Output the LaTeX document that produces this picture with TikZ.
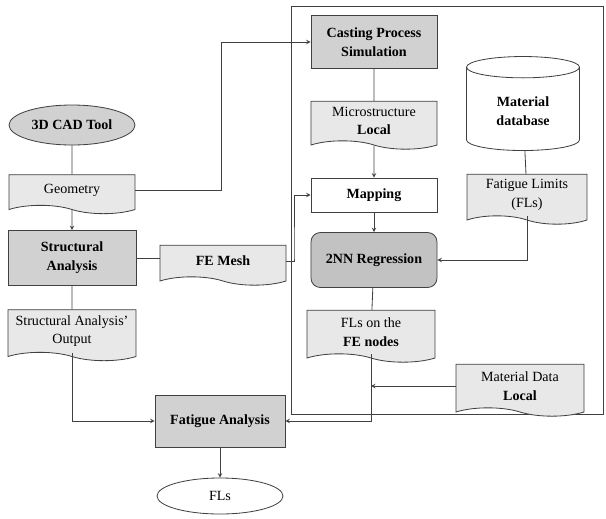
\documentclass[tikz,border=0pt]{standalone}
\usepackage{fontspec}
\setmainfont{Liberation Serif}
\usetikzlibrary{shapes.geometric,shapes.symbols}

\definecolor{procgray}{gray}{0.82}
\definecolor{docgray}{gray}{0.91}
\definecolor{regrgray}{gray}{0.76}
\definecolor{linegray}{gray}{0.25}

\begin{document}
\begin{tikzpicture}[x=0.03cm,y=-0.03cm,>=stealth,
    font=\fontsize{12}{16}\selectfont,
    conn/.style={draw=linegray,line width=0.7pt},
    proc/.style={rectangle,conn,fill=procgray,align=center,font=\fontsize{12}{16}\selectfont\bfseries},
    doc/.style={tape,tape bend top=none,tape bend bottom=out and in,tape bend height=0.25cm,
        conn,fill=docgray,align=center},
    term/.style={ellipse,conn,align=center}]
    \useasboundingbox (0,0) rectangle (606,518);
    % frame round the casting side
    \draw[conn] (291,6) rectangle (603,414);

    % left column
    \node[term,fill=procgray,minimum width=3.78cm,minimum height=1.2cm,font=\fontsize{12}{16}\selectfont\bfseries] (cad) at (72,125) {3D CAD Tool};
    \node[doc,minimum width=3.78cm,minimum height=1.17cm] (geom) at (72,190) {Geometry};
    \node[proc,minimum width=3.84cm,minimum height=1.65cm] (struct) at (72,258) {Structural\\Analysis};
    \node[doc,minimum width=3.78cm,minimum height=1.2cm,font=\fontsize{12}{16}\selectfont\bfseries] (femesh) at (223,261) {FE Mesh};
    \node[doc,minimum width=3.84cm,minimum height=1.53cm] (sout) at (72,331) {Structural Analysis'\\Output};
    \node[proc,minimum width=3.9cm,minimum height=1.56cm] (fatigue) at (220,421) {Fatigue Analysis};
    \node[term,fill=white,minimum width=3.78cm,minimum height=1.08cm] (fls) at (220,496) {FLs};

    % casting side
    \node[proc,minimum width=3.78cm,minimum height=1.59cm] (casting) at (374,42) {Casting Process\\Simulation};
    \node[doc,minimum width=3.78cm,minimum height=1.44cm] (micro) at (374,121) {Microstructure\\\textbf{Local}};
    \node[proc,fill=white,minimum width=3.78cm,minimum height=1.02cm] (mapping) at (374,195) {Mapping};
    \node[proc,fill=regrgray,rounded corners=8pt,minimum width=3.78cm,minimum height=1.65cm] (regr) at (374,260) {2NN Regression};
    \node[doc,minimum width=3.84cm,minimum height=1.56cm] (flsfe) at (371,332) {FLs on the\\\textbf{FE nodes}};
    \node[cylinder,shape border rotate=90,aspect=0.35,conn,fill=white,align=center,
        minimum width=3.39cm,minimum height=2.82cm,font=\fontsize{12}{16}\selectfont\bfseries] (matdb) at (523,111) {Material\\database};
    \node[doc,minimum width=3.6cm,minimum height=1.5cm] (fatlim) at (527,195) {Fatigue Limits\\(FLs)};
    \node[doc,minimum width=3.84cm,minimum height=1.56cm] (matloc) at (520,386) {Material Data\\\textbf{Local}};

    \coordinate (bend) at (221,42);
    \coordinate (meshbend) at (294,258);

    % connectors
    \draw[conn] (cad) -- (geom);
    \draw[conn,->] (geom) -- (struct);
    \draw[conn,->] (geom.east) -| (bend) -- (casting.west);
    \draw[conn] (struct.east) -- (struct.east -| femesh.west);
    \draw[conn,->] (femesh.east) -| (meshbend) |- (mapping.west);
    \draw[conn] (struct) -- (sout);
    \draw[conn,->] (sout.south) |- (fatigue.west);
    \draw[conn,->] (fatigue) -- (fls);
    \draw[conn] (casting) -- (micro);
    \draw[conn,->] (micro) -- (mapping);
    \draw[conn,->] (mapping) -- (regr);
    \draw[conn] (matdb) -- (fatlim);
    \draw[conn,->] (fatlim.south) |- (regr.east);
    \draw[conn] (regr) -- (flsfe);
    \draw[conn,->] (flsfe.south) |- (fatigue.east);
    \draw[conn,->] (matloc.west) -- (matloc.west -| flsfe.south);
\end{tikzpicture}
\end{document}
